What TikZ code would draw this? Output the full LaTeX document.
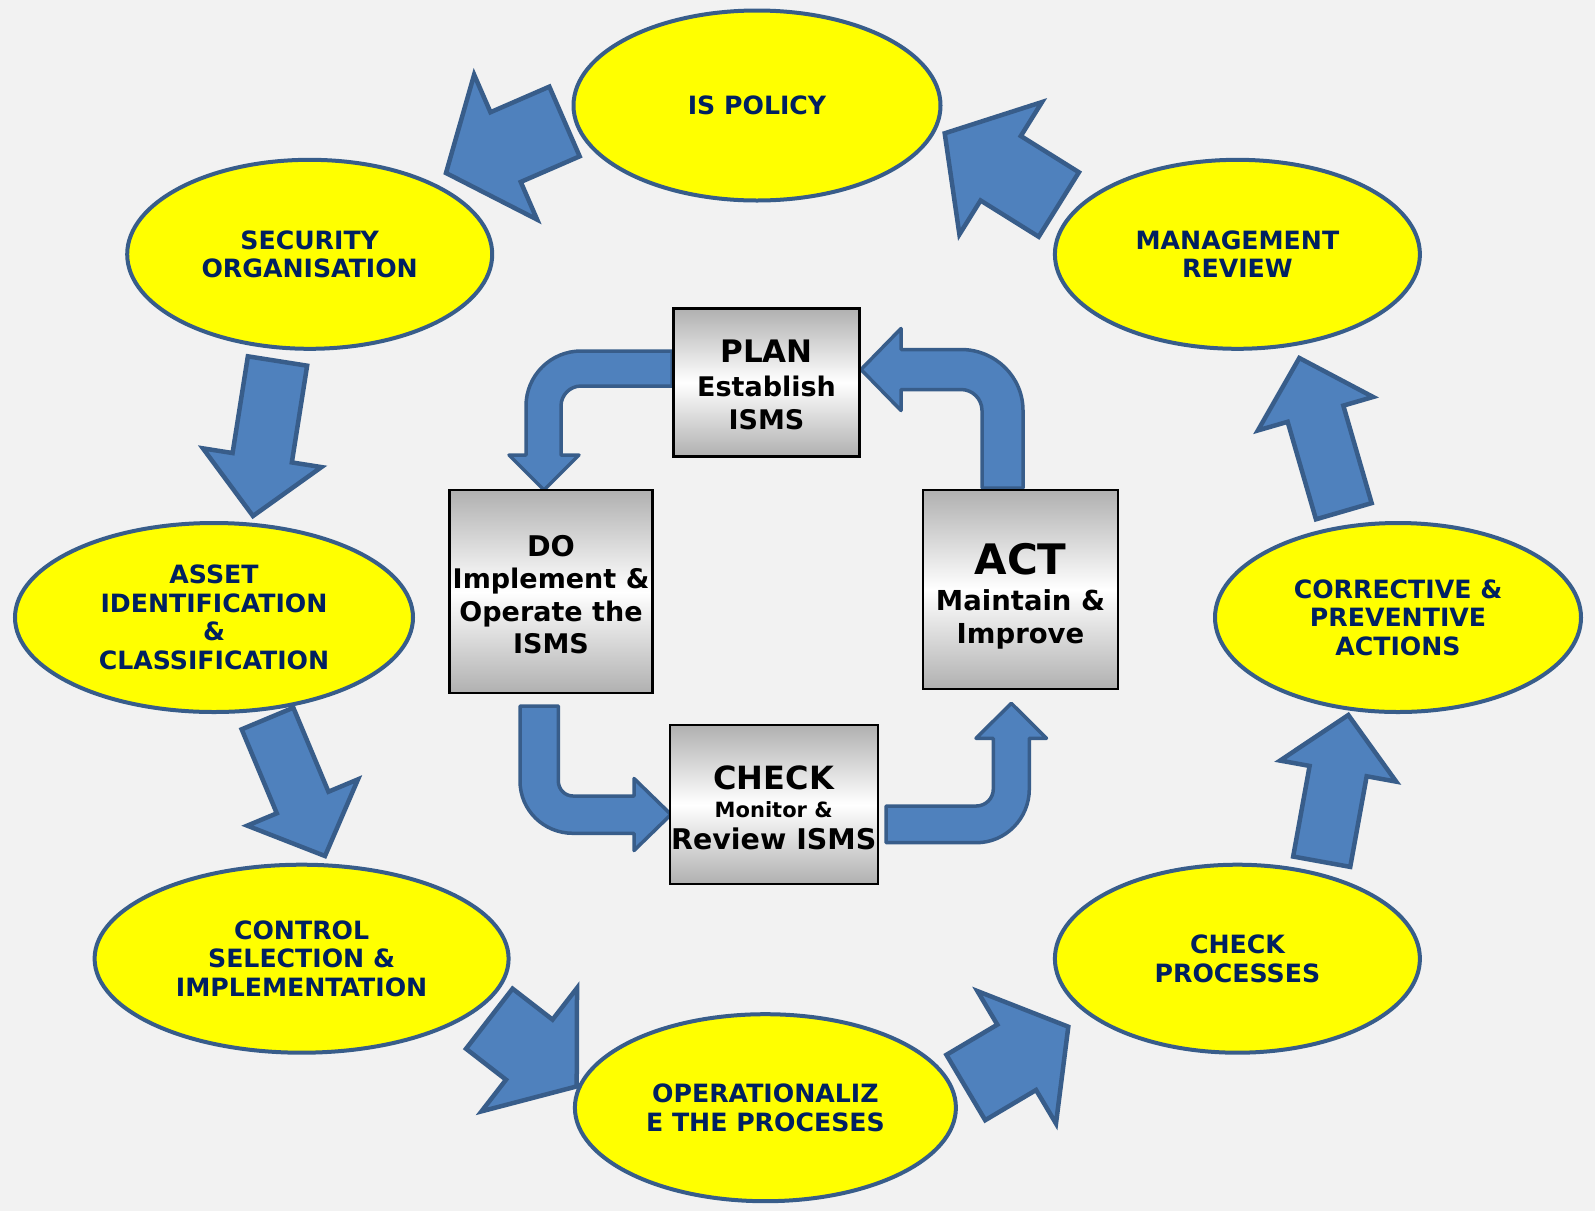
\documentclass[tikz,border=0pt]{standalone}
\usepackage{fontspec}
\setmainfont{DejaVu Sans}
\usetikzlibrary{calc,shapes.geometric}
\definecolor{bgc}{HTML}{F2F2F2}
\definecolor{afill}{HTML}{4F81BD}
\definecolor{aline}{HTML}{385D8A}
\definecolor{etext}{HTML}{002060}
\definecolor{eyellow}{RGB}{255,255,0}
\definecolor{boxgray}{HTML}{B0B0B0}
\newcommand\fsz[2]{\fontsize{#1}{#2}\selectfont}
\tikzset{
  ell/.style={ellipse, draw=aline, line width=4pt, fill=eyellow, inner sep=0pt,
    text=etext, font=\bfseries\fsz{25.2}{28.5}, align=center},
  pdca/.style={rectangle, draw=black, line width=2.2pt, top color=boxgray,
    bottom color=boxgray, middle color=white, inner sep=0pt},
  pdcatext/.style={inner sep=0pt, align=center, text=black},
  fat/.style={fill=afill, draw=aline, line width=4.5pt, line join=miter},
  bent/.style={fill=afill, draw=aline, line width=3.5pt, line join=round},
}
% block arrow: tail, tip, shaft half width, head half width, head length
\newcommand\fatarrow[5]{%
  \coordinate (fah) at ($(#2)!#5!(#1)$);
  \draw[fat] ($(#1)!#3!90:(#2)$) -- ($(fah)!#3!90:(#2)$) -- ($(fah)!#4!90:(#2)$)
    -- (#2) -- ($(fah)!#4!-90:(#2)$) -- ($(fah)!#3!-90:(#2)$)
    -- ($(#1)!#3!-90:(#2)$) -- cycle;}
\begin{document}
\begin{tikzpicture}[x=1pt,y=-1pt]
\fill[bgc] (0,0) rectangle (1595,1211);
\useasboundingbox (0,0) rectangle (1595,1211);

% outer cycle ellipses
\node[ell, minimum width=367pt, minimum height=190pt] (ispolicy) at (757,105.5) {IS POLICY};
\node[ell, minimum width=365pt, minimum height=189pt] (secorg) at (309.7,254.3) {SECURITY\\ORGANISATION};
\node[ell, minimum width=398pt, minimum height=189pt] (asset) at (214,617.5) {ASSET\\IDENTIFICATION\\\&\\CLASSIFICATION};
\node[ell, minimum width=414pt, minimum height=188pt] (control) at (301.6,958.7) {CONTROL\\SELECTION \&\\IMPLEMENTATION};
\node[ell, minimum width=381pt, minimum height=187pt] (oper) at (765.4,1107.7) {OPERATIONALIZ\\E THE PROCESES};
\node[ell, minimum width=365pt, minimum height=188pt] (checkp) at (1237.4,958.7) {CHECK\\PROCESSES};
\node[ell, minimum width=366pt, minimum height=189pt] (correct) at (1398,617.5) {CORRECTIVE \&\\PREVENTIVE\\ACTIONS};
\node[ell, minimum width=365pt, minimum height=189pt] (mgmt) at (1237.4,254.3) {MANAGEMENT\\REVIEW};

% outer block arrows (tail / tip coordinates)
\coordinate (a1t) at (564.5,121.5);  \coordinate (a1h) at (446,173);
\coordinate (a2t) at (277.5,361);    \coordinate (a2h) at (253,516);
\coordinate (a3t) at (267.5,718.5);  \coordinate (a3h) at (325,856);
\coordinate (a4t) at (489.3,1018.7); \coordinate (a4h) at (576.7,1086.4);
\coordinate (a5t) at (965.8,1087.5); \coordinate (a5h) at (1068.3,1026.7);
\coordinate (a6t) at (1321.7,861.7); \coordinate (a6h) at (1348.3,715);
\coordinate (a7t) at (1343.8,511.2); \coordinate (a7h) at (1299.3,358);
\coordinate (a8t) at (1058.8,204.5); \coordinate (a8h) at (944.7,133.3);
\fatarrow{a1t}{a1h}{38pt}{79pt}{65pt}
\fatarrow{a2t}{a2h}{30pt}{60pt}{59pt}
\fatarrow{a3t}{a3h}{28pt}{60pt}{58pt}
\fatarrow{a4t}{a4h}{38pt}{78pt}{60pt}
\fatarrow{a5t}{a5h}{38pt}{77pt}{60pt}
\fatarrow{a6t}{a6h}{29pt}{59pt}{57pt}
\fatarrow{a7t}{a7h}{29pt}{60pt}{58pt}
\fatarrow{a8t}{a8h}{38pt}{78pt}{66pt}

% inner bent arrows
\draw[bent] (672,351) -- (581,351) .. controls (550.6,351) and (526,375.6) .. (526,406)
  -- (526,455) -- (509,455) -- (544,490) -- (579,455) -- (561,455) -- (561,406)
  .. controls (561,395) and (570,386) .. (581,386) -- (672,386) -- cycle;
\draw[bent] (520,706) -- (520,781) .. controls (520,810.2) and (543.7,833.3) .. (573,833.3)
  -- (634,833.3) -- (634,850.5) -- (671,814.5) -- (634,778.5) -- (634,796) -- (573,796)
  .. controls (564.8,796) and (558.3,789.2) .. (558.3,781) -- (558.3,706) -- cycle;
\draw[bent] (886,806) -- (886,842.7) -- (976.3,842.7) .. controls (1005.6,842.7) and (1029.3,818.6) .. (1029.3,789)
  -- (1029.3,738.3) -- (1046.5,738.3) -- (1011.3,703.3) -- (976,738.3) -- (993.3,738.3) -- (993.3,789)
  .. controls (993.3,798.4) and (985.7,806) .. (976.3,806) -- cycle;
\draw[bent] (982,488) -- (1023,488) -- (1023,410.5) .. controls (1023,376.8) and (995.2,349.5) .. (961,349.5)
  -- (901,349.5) -- (901,328.5) -- (861,369.5) -- (901,410.5) -- (901,389.5) -- (961,389.5)
  .. controls (972.6,389.5) and (982,398.9) .. (982,410.5) -- cycle;

% PDCA boxes
\node[pdca, minimum width=186pt, minimum height=148pt] (plan) at (766.5,382.5) {};
\node[pdca, minimum width=203pt, minimum height=203pt] (do) at (551,591.7) {};
\node[pdca, minimum width=195pt, minimum height=199pt] (act) at (1020.5,589.5) {};
\node[pdca, minimum width=208pt, minimum height=159pt] (check) at (773.7,804.5) {};

\node[pdcatext, font=\bfseries\fsz{27}{33.5}] (plantext) at ($(plan.center)+(0,2.5)$)
  {{\fsz{31}{31}PLAN}\\Establish\\ISMS};
\node[pdcatext, font=\bfseries\fsz{27}{32.3}] (dotext) at ($(do.center)+(0,3)$)
  {{\fsz{28.5}{28.5}DO}\\Implement \&\\Operate the\\ISMS};
\node[pdcatext, font=\bfseries\fsz{27.5}{33}] (acttext) at ($(act.center)+(0,6.5)$)
  {{\fsz{42}{42}ACT}\\[3pt]Maintain \&\\Improve};
\node[pdcatext, font=\bfseries\fsz{28.5}{31.6}] (checktext) at ($(check.center)+(0,3)$)
  {{\fsz{32}{32}CHECK}\\[-3pt]{\fsz{21}{21}Monitor \&}\\Review ISMS};
\end{tikzpicture}
\end{document}
